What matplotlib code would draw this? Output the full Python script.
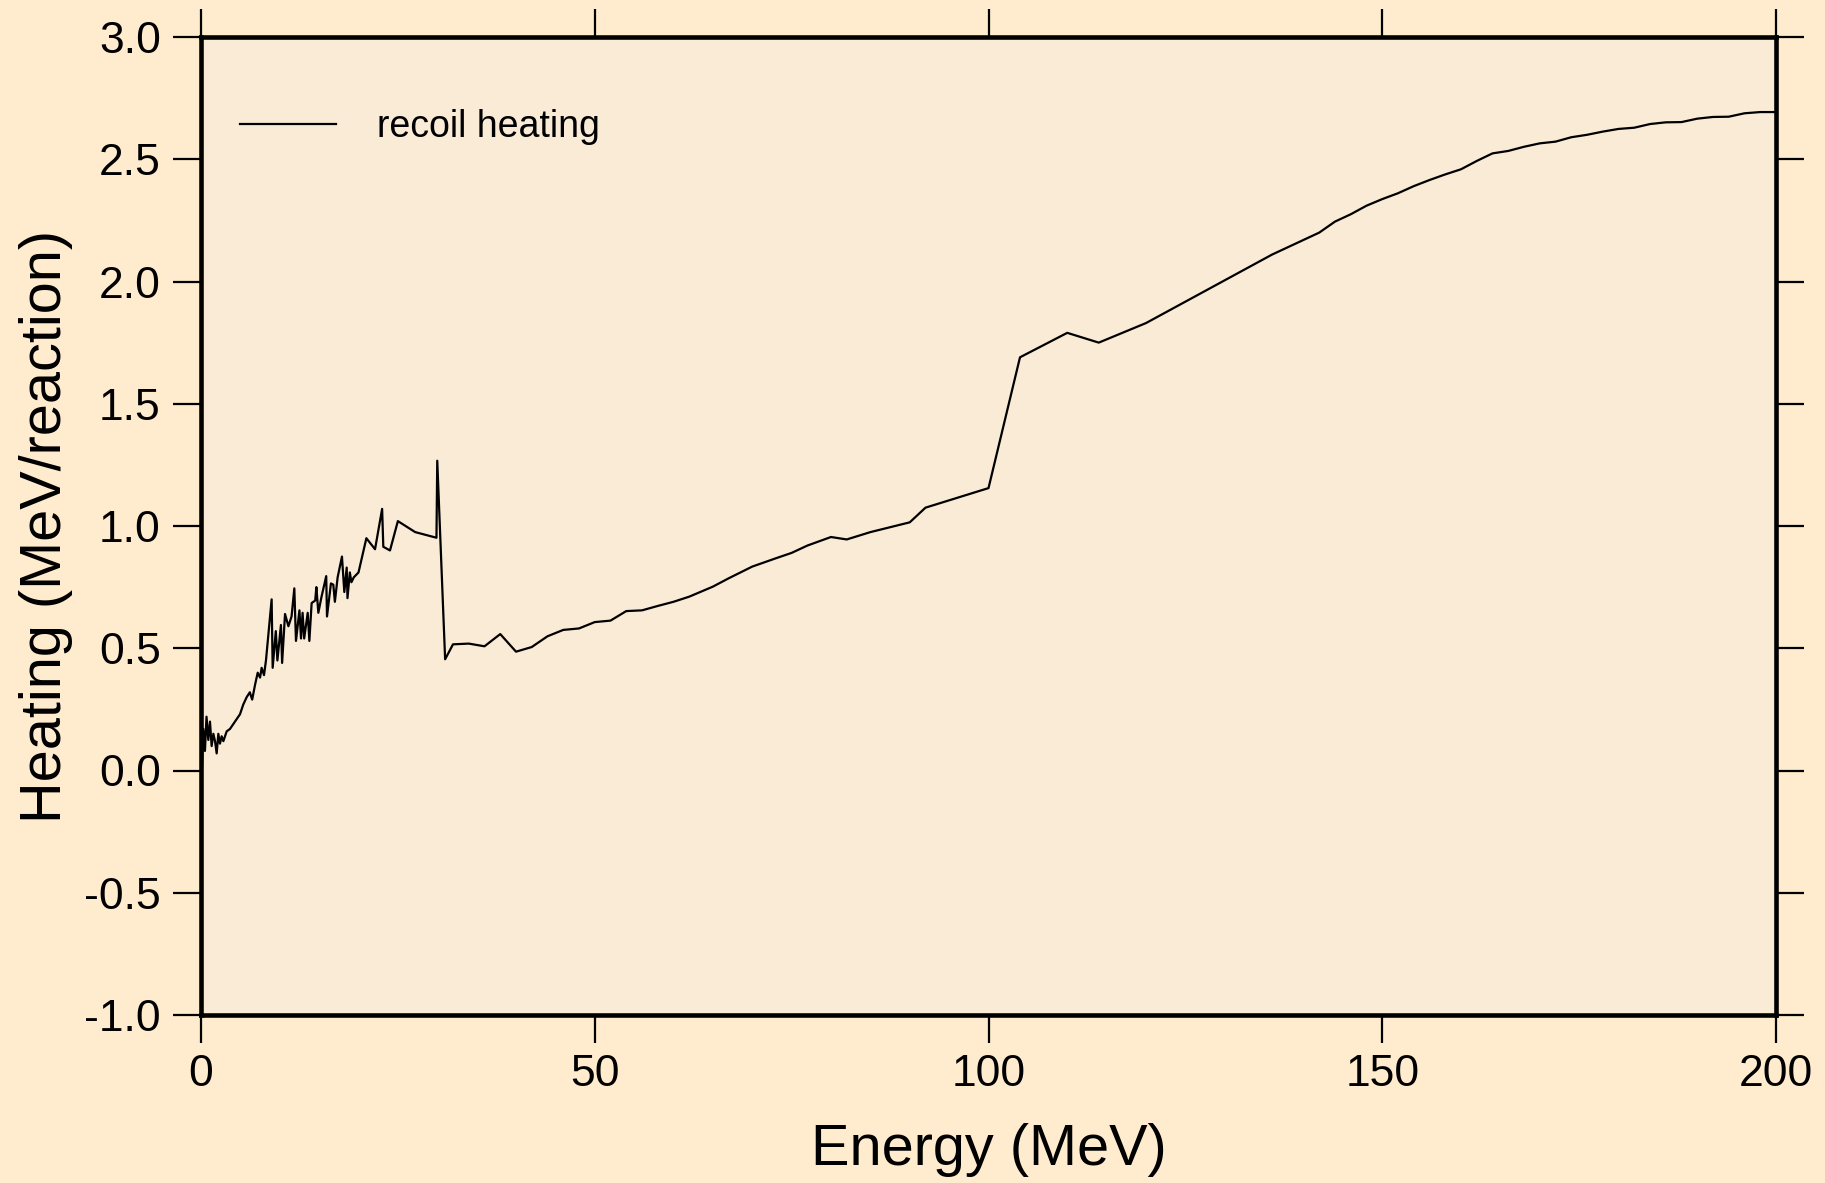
import matplotlib
matplotlib.use("Agg")
import matplotlib.pyplot as plt
import numpy as np
from matplotlib.ticker import FormatStrFormatter

plt.rcParams['font.family'] = ['Liberation Sans', 'DejaVu Sans']
plt.rcParams['axes.unicode_minus'] = False

# noisy low-energy part (MeV, MeV/reaction)
energy_low = [0.02, 0.3, 0.5, 0.7, 0.93, 1.14, 1.35, 1.57, 1.78, 1.99,
              2.2, 2.41, 2.62, 2.84, 3.26, 3.68, 4.1, 4.53, 4.95, 5.37,
              5.8, 6.2, 6.5, 6.86, 7.2, 7.5, 7.7, 8.0, 8.25, 8.97,
              9.1, 9.5, 9.7, 10.15, 10.3, 10.67, 11.1, 11.5, 11.85, 12.06,
              12.5, 12.7, 12.9, 13.1, 13.55, 13.76, 14.05, 14.5, 14.65, 14.9,
              15.3, 15.9, 16.0, 16.5, 16.8, 17.0, 17.35, 17.9, 18.2, 18.5,
              18.6, 18.9, 19.1, 19.4, 20.0, 21.0, 22.1, 23.0, 23.15, 24.0,
              25.0, 27.2, 29.9, 30.0]
heating_low = [-0.08, 0.17, 0.08, 0.22, 0.125, 0.20, 0.10, 0.15, 0.12, 0.07,
               0.15, 0.11, 0.14, 0.12, 0.16, 0.17, 0.19, 0.21, 0.23, 0.27,
               0.30, 0.32, 0.29, 0.35, 0.40, 0.38, 0.42, 0.39, 0.45, 0.70,
               0.42, 0.57, 0.45, 0.595, 0.44, 0.64, 0.59, 0.63, 0.745, 0.53,
               0.655, 0.54, 0.645, 0.54, 0.645, 0.53, 0.685, 0.695, 0.75, 0.645,
               0.71, 0.795, 0.63, 0.765, 0.76, 0.69, 0.79, 0.875, 0.73, 0.83,
               0.705, 0.81, 0.77, 0.79, 0.81, 0.95, 0.905, 1.07, 0.915, 0.90,
               1.02, 0.975, 0.952, 1.267]

# smoother high-energy part
energy_high = [31, 32, 34, 36, 38, 40, 42, 44, 46, 48,
               50, 52, 54, 56, 58, 60, 62, 65, 67, 70,
               73, 75, 77, 80, 82, 85, 90, 92, 100, 104,
               110, 112, 114, 120, 124, 128, 132, 136, 140, 142,
               144, 146, 148, 150, 152, 154, 156, 158, 160, 162,
               164, 166, 168, 170, 172, 174, 176, 178, 180, 182,
               184, 186, 188, 190, 192, 194, 196, 198, 200]
heating_high = [0.455, 0.516, 0.519, 0.508, 0.558, 0.486, 0.505, 0.549, 0.575, 0.581,
                0.607, 0.613, 0.652, 0.655, 0.673, 0.690, 0.711, 0.752, 0.786, 0.834,
                0.868, 0.89, 0.92, 0.955, 0.945, 0.975, 1.015, 1.075, 1.155, 1.69,
                1.79, 1.77, 1.75, 1.83, 1.90, 1.97, 2.04, 2.11, 2.17, 2.20,
                2.245, 2.275, 2.31, 2.337, 2.361, 2.39, 2.415, 2.438, 2.459, 2.493,
                2.524, 2.534, 2.551, 2.565, 2.572, 2.59, 2.60, 2.613, 2.624, 2.629,
                2.644, 2.651, 2.652, 2.666, 2.673, 2.674, 2.688, 2.693, 2.693]

x_ticks = [0, 50, 100, 150, 200]
y_ticks = [-1.0, -0.5, 0.0, 0.5, 1.0, 1.5, 2.0, 2.5, 3.0]

energy = np.array(energy_low + energy_high)
heating = np.array(heating_low + heating_high)

fig = plt.figure(figsize=(18.25, 11.83), dpi=100, facecolor='#FFEBCD')
ax = fig.add_axes([201 / 1825, 1 - 1015 / 1183, 1575 / 1825, 978 / 1183])
ax.set_facecolor('#FAEBD7')

ax.plot(energy, heating, color='black', linewidth=1.6, label='recoil heating')

ax.set_xlim(0, 200)
ax.set_ylim(-1.0, 3.0)
ax.set_xticks(x_ticks)
ax.set_yticks(y_ticks)
ax.yaxis.set_major_formatter(FormatStrFormatter('%.1f'))

for s in ax.spines.values():
    s.set_linewidth(3.3)
    s.set_zorder(5)

ax.tick_params(which='both', direction='out', length=20, width=1.6,
               top=True, right=True, labelsize=32, color='black')
ax.tick_params(axis='y', pad=9)
ax.tick_params(axis='x', pad=8)

ax.set_xlabel('Energy (MeV)', fontsize=41.5, labelpad=20)
ax.set_ylabel('Heating (MeV/reaction)', fontsize=41.5, labelpad=8)

ax.legend(loc='upper left', bbox_to_anchor=(0.0248, 0.926), frameon=False,
          fontsize=27, handlelength=2.56, handletextpad=1.09,
          borderpad=0, borderaxespad=0)

fig.savefig('out.png', dpi=100, facecolor=fig.get_facecolor())
